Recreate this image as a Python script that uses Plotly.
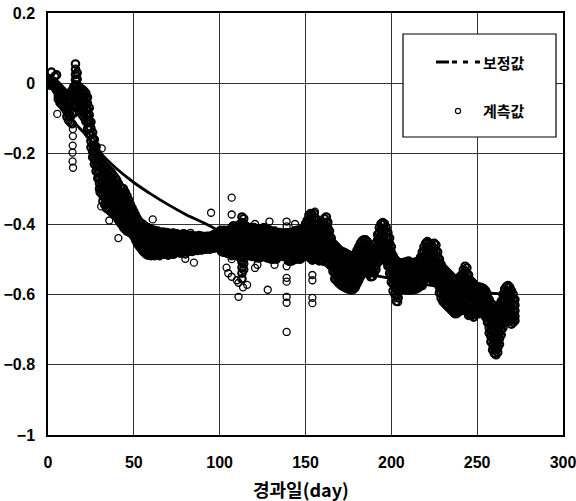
import plotly.graph_objects as go

# ---------------- data ----------------
# fitted curve (보정값)
fit_day = [0, 5, 10, 15, 20, 25, 30, 40, 50, 60, 70, 80, 90, 100, 110, 120, 130,
           140, 150, 160, 170, 180, 190, 200, 210, 220, 230, 240, 250, 260, 272]
fit_val = [0.0, -0.03, -0.075, -0.108, -0.136, -0.163, -0.195, -0.243, -0.282, -0.315,
           -0.345, -0.372, -0.395, -0.42, -0.44, -0.458, -0.474, -0.488, -0.5, -0.514,
           -0.525, -0.536, -0.546, -0.555, -0.564, -0.572, -0.58, -0.586, -0.592, -0.597, -0.601]

# measured values (계측값): (day, readings of that day)
meas_days_0_30 = [
    (0, [0.0, 0.005]), (1, [0.01, 0.0, -0.005]), (2, [0.032, 0.0]), (3, [0.005, -0.005]),
    (4, [0.02, 0.0, -0.012]), (5, [0.024, -0.005, -0.02]),
    (6, [-0.01, -0.022, -0.035, -0.045]), (7, [-0.015, -0.028, -0.042, -0.055]),
    (8, [-0.02, -0.033, -0.047, -0.06]), (9, [-0.025, -0.038, -0.052, -0.066]),
    (10, [-0.03, -0.044, -0.058, -0.072]), (11, [-0.035, -0.05, -0.065, -0.08, -0.095]),
    (12, [-0.03, -0.05, -0.07, -0.09, -0.105]), (13, [-0.035, -0.055, -0.075, -0.095, -0.11]),
    (14, [-0.02, -0.05, -0.085, -0.115]), (15, [-0.01, -0.035, -0.06, -0.085]),
    (16, [0.055, 0.04, 0.025, 0.01, -0.005, -0.02, -0.035, -0.05]),
    (17, [0.03, 0.012, -0.005, -0.02, -0.035, -0.05, -0.065]),
    (18, [-0.01, -0.025, -0.04, -0.055, -0.07]), (19, [-0.015, -0.03, -0.045, -0.06, -0.075]),
    (20, [-0.018, -0.033, -0.048, -0.063, -0.078, -0.09]),
    (21, [-0.022, -0.037, -0.052, -0.067, -0.082, -0.097]),
    (22, [-0.028, -0.043, -0.058, -0.073, -0.09, -0.108]),
    (23, [-0.04, -0.057, -0.075, -0.093, -0.112, -0.13]),
    (24, [-0.07, -0.09, -0.11, -0.13, -0.145]), (25, [-0.11, -0.128, -0.146, -0.164, -0.182]),
    (26, [-0.14, -0.158, -0.176, -0.194, -0.21]), (27, [-0.16, -0.178, -0.196, -0.214, -0.23]),
    (28, [-0.18, -0.198, -0.216, -0.234, -0.25]), (29, [-0.2, -0.218, -0.236, -0.254, -0.27]),
    (30, [-0.215, -0.233, -0.251, -0.269, -0.285, -0.3]),
]
meas_days_31_60 = [
    (31, [-0.225, -0.243, -0.261, -0.279, -0.297, -0.312]),
    (32, [-0.23, -0.248, -0.266, -0.284, -0.302, -0.32, -0.335]),
    (33, [-0.235, -0.253, -0.271, -0.289, -0.307, -0.325, -0.345]),
    (34, [-0.24, -0.258, -0.276, -0.294, -0.312, -0.33, -0.355]),
    (35, [-0.245, -0.263, -0.281, -0.299, -0.317, -0.335, -0.358]),
    (36, [-0.25, -0.268, -0.286, -0.304, -0.322, -0.34, -0.362]),
    (37, [-0.255, -0.273, -0.291, -0.309, -0.327, -0.345, -0.366]),
    (38, [-0.262, -0.28, -0.298, -0.316, -0.334, -0.352, -0.37]),
    (39, [-0.268, -0.286, -0.304, -0.322, -0.34, -0.358, -0.375]),
    (40, [-0.275, -0.293, -0.311, -0.329, -0.347, -0.365, -0.38]),
    (41, [-0.285, -0.303, -0.321, -0.339, -0.357, -0.375, -0.388]),
    (42, [-0.295, -0.313, -0.331, -0.349, -0.367, -0.385, -0.395]),
    (43, [-0.298, -0.316, -0.334, -0.352, -0.37, -0.388, -0.402]),
    (44, [-0.3, -0.318, -0.336, -0.354, -0.372, -0.39, -0.41]),
    (45, [-0.31, -0.328, -0.346, -0.364, -0.382, -0.4, -0.415]),
    (46, [-0.32, -0.338, -0.356, -0.374, -0.392, -0.408, -0.42]),
    (47, [-0.332, -0.35, -0.368, -0.386, -0.402, -0.422]),
    (48, [-0.345, -0.362, -0.379, -0.396, -0.412, -0.425]),
    (49, [-0.355, -0.372, -0.389, -0.406, -0.42, -0.428]),
    (50, [-0.365, -0.381, -0.397, -0.413, -0.426, -0.435]),
    (51, [-0.375, -0.391, -0.407, -0.423, -0.437, -0.445]),
    (52, [-0.385, -0.401, -0.417, -0.433, -0.447, -0.455]),
    (53, [-0.392, -0.408, -0.424, -0.44, -0.454, -0.462]),
    (54, [-0.398, -0.414, -0.43, -0.446, -0.46, -0.468]),
    (55, [-0.4, -0.416, -0.432, -0.448, -0.464, -0.475]),
    (56, [-0.405, -0.421, -0.437, -0.453, -0.469, -0.48]),
    (57, [-0.408, -0.424, -0.44, -0.456, -0.472, -0.485]),
    (58, [-0.41, -0.426, -0.442, -0.458, -0.474, -0.487]),
    (59, [-0.413, -0.429, -0.445, -0.461, -0.476, -0.488]),
    (60, [-0.415, -0.431, -0.447, -0.463, -0.478, -0.49]),
]
meas_days_61_100 = [
    (61, [-0.42, -0.436, -0.452, -0.468, -0.484]), (62, [-0.418, -0.434, -0.45, -0.466, -0.482, -0.49]),
    (63, [-0.422, -0.438, -0.454, -0.47, -0.486]), (64, [-0.42, -0.436, -0.452, -0.468, -0.484]),
    (65, [-0.424, -0.44, -0.456, -0.472, -0.488]), (66, [-0.425, -0.441, -0.457, -0.473, -0.485]),
    (67, [-0.423, -0.439, -0.455, -0.471, -0.484]), (68, [-0.426, -0.442, -0.458, -0.474, -0.486]),
    (69, [-0.424, -0.44, -0.456, -0.472, -0.483]), (70, [-0.426, -0.442, -0.458, -0.474, -0.488]),
    (71, [-0.428, -0.444, -0.46, -0.476, -0.482]), (72, [-0.427, -0.443, -0.459, -0.475, -0.484]),
    (73, [-0.426, -0.442, -0.458, -0.474, -0.486]), (74, [-0.43, -0.445, -0.46, -0.475, -0.482]),
    (75, [-0.428, -0.444, -0.46, -0.476, -0.481]), (76, [-0.43, -0.445, -0.46, -0.474, -0.48]),
    (77, [-0.432, -0.447, -0.462, -0.476, -0.483]), (78, [-0.43, -0.445, -0.46, -0.475, -0.48]),
    (79, [-0.428, -0.443, -0.458, -0.473, -0.479]), (80, [-0.43, -0.445, -0.46, -0.475, -0.485]),
    (81, [-0.432, -0.447, -0.462, -0.476]), (82, [-0.434, -0.449, -0.464, -0.477]),
    (83, [-0.432, -0.447, -0.462, -0.475]), (84, [-0.435, -0.45, -0.465, -0.478]),
    (85, [-0.434, -0.449, -0.464, -0.476]), (86, [-0.436, -0.451, -0.466, -0.474]),
    (87, [-0.435, -0.45, -0.465, -0.475]), (88, [-0.433, -0.448, -0.463, -0.472]),
    (89, [-0.436, -0.451, -0.466, -0.474]), (90, [-0.435, -0.45, -0.465, -0.473]),
    (91, [-0.437, -0.452, -0.467, -0.472]), (92, [-0.436, -0.451, -0.466, -0.471]),
    (93, [-0.435, -0.45, -0.465, -0.47]), (94, [-0.437, -0.452, -0.467, -0.472]),
    (95, [-0.434, -0.449, -0.464, -0.47]), (96, [-0.432, -0.447, -0.462, -0.469]),
    (97, [-0.43, -0.445, -0.46, -0.468]), (98, [-0.428, -0.443, -0.458, -0.467]),
    (99, [-0.425, -0.44, -0.455, -0.466]), (100, [-0.42, -0.436, -0.452, -0.466]),
]
meas_days_101_150 = [
    (101, [-0.418, -0.434, -0.45, -0.466, -0.478]), (102, [-0.42, -0.436, -0.452, -0.468, -0.48]),
    (103, [-0.418, -0.434, -0.45, -0.466, -0.48]), (104, [-0.42, -0.436, -0.452, -0.468, -0.482]),
    (105, [-0.422, -0.438, -0.454, -0.47, -0.484]), (106, [-0.418, -0.434, -0.45, -0.466, -0.482]),
    (107, [-0.41, -0.426, -0.442, -0.458, -0.474, -0.49]), (108, [-0.405, -0.421, -0.437, -0.453, -0.469, -0.485]),
    (109, [-0.41, -0.426, -0.442, -0.458, -0.474, -0.488]), (110, [-0.408, -0.424, -0.44, -0.456, -0.472, -0.488]),
    (111, [-0.405, -0.421, -0.437, -0.453, -0.469, -0.485]),
    (112, [-0.4, -0.416, -0.432, -0.448, -0.464, -0.48, -0.496]),
    (113, [-0.38, -0.396, -0.412, -0.428, -0.444, -0.46, -0.476, -0.492, -0.508, -0.524, -0.54, -0.556]),
    (114, [-0.385, -0.401, -0.417, -0.433, -0.449, -0.465, -0.481, -0.497, -0.513, -0.53]),
    (115, [-0.405, -0.421, -0.437, -0.453, -0.469, -0.485]), (116, [-0.41, -0.426, -0.442, -0.458, -0.474, -0.49]),
    (117, [-0.412, -0.428, -0.444, -0.46, -0.476, -0.49]), (118, [-0.41, -0.426, -0.442, -0.458, -0.474, -0.49]),
    (119, [-0.412, -0.428, -0.444, -0.46, -0.476, -0.492]), (120, [-0.41, -0.426, -0.442, -0.458, -0.474, -0.49]),
    (121, [-0.414, -0.43, -0.446, -0.462, -0.478, -0.494]), (122, [-0.416, -0.432, -0.448, -0.464, -0.48, -0.496]),
    (123, [-0.418, -0.434, -0.45, -0.466, -0.482, -0.496]), (124, [-0.415, -0.431, -0.447, -0.463, -0.479, -0.495]),
    (125, [-0.412, -0.428, -0.444, -0.46, -0.476, -0.492]), (126, [-0.41, -0.426, -0.442, -0.458, -0.474, -0.49]),
    (127, [-0.412, -0.428, -0.444, -0.46, -0.476, -0.494]), (128, [-0.415, -0.431, -0.447, -0.463, -0.479, -0.497]),
    (129, [-0.418, -0.434, -0.45, -0.466, -0.482, -0.498]), (130, [-0.42, -0.436, -0.452, -0.468, -0.484, -0.5]),
    (131, [-0.422, -0.438, -0.454, -0.47, -0.486, -0.5]), (132, [-0.42, -0.436, -0.452, -0.468, -0.484, -0.498]),
    (133, [-0.424, -0.44, -0.456, -0.472, -0.488, -0.5]), (134, [-0.426, -0.442, -0.458, -0.474, -0.49]),
    (135, [-0.424, -0.44, -0.456, -0.472, -0.488]), (136, [-0.426, -0.442, -0.458, -0.474, -0.49]),
    (137, [-0.428, -0.444, -0.46, -0.476, -0.492]), (138, [-0.426, -0.442, -0.458, -0.474, -0.49]),
    (139, [-0.425, -0.441, -0.457, -0.473, -0.489]), (140, [-0.426, -0.442, -0.458, -0.474, -0.49, -0.505]),
    (141, [-0.428, -0.444, -0.46, -0.476, -0.492, -0.506]), (142, [-0.425, -0.441, -0.457, -0.473, -0.489, -0.505]),
    (143, [-0.422, -0.438, -0.454, -0.47, -0.486, -0.502]), (144, [-0.42, -0.436, -0.452, -0.468, -0.484, -0.5]),
    (145, [-0.418, -0.434, -0.45, -0.466, -0.482, -0.498]), (146, [-0.42, -0.436, -0.452, -0.468, -0.484, -0.5]),
    (147, [-0.418, -0.434, -0.45, -0.466, -0.482, -0.5]), (148, [-0.415, -0.431, -0.447, -0.463, -0.479, -0.495]),
    (149, [-0.41, -0.426, -0.442, -0.458, -0.474, -0.49]), (150, [-0.4, -0.416, -0.432, -0.448, -0.464, -0.48]),
]
meas_days_151_200 = [
    (151, [-0.39, -0.406, -0.422, -0.438, -0.454, -0.47, -0.486]),
    (152, [-0.375, -0.391, -0.407, -0.423, -0.439, -0.455, -0.471, -0.487]),
    (153, [-0.37, -0.386, -0.402, -0.418, -0.434, -0.45, -0.466, -0.482, -0.498]),
    (154, [-0.375, -0.391, -0.407, -0.423, -0.439, -0.455, -0.471, -0.487, -0.503]),
    (155, [-0.37, -0.386, -0.402, -0.418, -0.434, -0.45, -0.466, -0.482, -0.5]),
    (156, [-0.385, -0.401, -0.417, -0.433, -0.449, -0.465, -0.481, -0.497]),
    (157, [-0.4, -0.416, -0.432, -0.448, -0.464, -0.48, -0.496]),
    (158, [-0.41, -0.426, -0.442, -0.458, -0.474, -0.49, -0.505]),
    (159, [-0.405, -0.421, -0.437, -0.453, -0.469, -0.485, -0.5]),
    (160, [-0.395, -0.411, -0.427, -0.443, -0.459, -0.475, -0.491, -0.505]),
    (161, [-0.385, -0.401, -0.417, -0.433, -0.449, -0.465, -0.481, -0.5]),
    (162, [-0.38, -0.396, -0.412, -0.428, -0.444, -0.46, -0.476, -0.492, -0.508]),
    (163, [-0.395, -0.411, -0.427, -0.443, -0.459, -0.475, -0.491, -0.507]),
    (164, [-0.42, -0.436, -0.452, -0.468, -0.484, -0.5, -0.515]),
    (165, [-0.44, -0.456, -0.472, -0.488, -0.504, -0.52]),
    (166, [-0.455, -0.471, -0.487, -0.503, -0.519, -0.535]),
    (167, [-0.46, -0.476, -0.492, -0.508, -0.524, -0.54, -0.556]),
    (168, [-0.465, -0.481, -0.497, -0.513, -0.529, -0.545, -0.56]),
    (169, [-0.47, -0.486, -0.502, -0.518, -0.534, -0.55, -0.566]),
    (170, [-0.475, -0.491, -0.507, -0.523, -0.539, -0.555, -0.571]),
    (171, [-0.478, -0.494, -0.51, -0.526, -0.542, -0.558, -0.575]),
    (172, [-0.48, -0.496, -0.512, -0.528, -0.544, -0.56, -0.578]),
    (173, [-0.482, -0.498, -0.514, -0.53, -0.546, -0.562, -0.58]),
    (174, [-0.485, -0.501, -0.517, -0.533, -0.549, -0.565, -0.583]),
    (175, [-0.488, -0.504, -0.52, -0.536, -0.552, -0.568, -0.585]),
    (176, [-0.49, -0.506, -0.522, -0.538, -0.554, -0.57, -0.586]),
    (177, [-0.492, -0.508, -0.524, -0.54, -0.556, -0.572, -0.587]),
    (178, [-0.49, -0.506, -0.522, -0.538, -0.554, -0.57, -0.585]),
    (179, [-0.485, -0.501, -0.517, -0.533, -0.549, -0.565, -0.58]),
    (180, [-0.475, -0.491, -0.507, -0.523, -0.539, -0.555, -0.57]),
    (181, [-0.465, -0.481, -0.497, -0.513, -0.529, -0.545, -0.56]),
    (182, [-0.455, -0.471, -0.487, -0.503, -0.519, -0.535, -0.55]),
    (183, [-0.448, -0.464, -0.48, -0.496, -0.512, -0.528, -0.54]),
    (184, [-0.445, -0.461, -0.477, -0.493, -0.509, -0.525, -0.54]),
    (185, [-0.445, -0.461, -0.477, -0.493, -0.509, -0.525, -0.538]),
    (186, [-0.45, -0.466, -0.482, -0.498, -0.514, -0.53]),
    (187, [-0.46, -0.476, -0.492, -0.508, -0.524, -0.54]),
    (188, [-0.475, -0.491, -0.507, -0.523, -0.539, -0.55]),
    (189, [-0.485, -0.501, -0.517, -0.533, -0.549]),
    (190, [-0.475, -0.491, -0.507, -0.523, -0.539]),
    (191, [-0.455, -0.471, -0.487, -0.503, -0.519, -0.53]),
    (192, [-0.43, -0.446, -0.462, -0.478, -0.494, -0.51]),
    (193, [-0.41, -0.426, -0.442, -0.458, -0.474, -0.49, -0.505]),
    (194, [-0.4, -0.416, -0.432, -0.448, -0.464, -0.48, -0.496]),
    (195, [-0.396, -0.412, -0.428, -0.444, -0.46, -0.476, -0.492]),
    (196, [-0.4, -0.416, -0.432, -0.448, -0.464, -0.48, -0.496]),
    (197, [-0.41, -0.426, -0.442, -0.458, -0.474, -0.49, -0.506]),
    (198, [-0.425, -0.441, -0.457, -0.473, -0.489, -0.505, -0.52]),
    (199, [-0.44, -0.456, -0.472, -0.488, -0.504, -0.52, -0.54]),
    (200, [-0.465, -0.481, -0.497, -0.513, -0.529, -0.545, -0.565]),
]
meas_days_201_272 = [
    (201, [-0.49, -0.506, -0.522, -0.538, -0.554, -0.57, -0.59]),
    (202, [-0.5, -0.516, -0.532, -0.548, -0.564, -0.58, -0.6]),
    (203, [-0.505, -0.521, -0.537, -0.553, -0.569, -0.585, -0.605, -0.62]),
    (204, [-0.51, -0.526, -0.542, -0.558, -0.574, -0.59, -0.61]),
    (205, [-0.51, -0.526, -0.542, -0.558, -0.574, -0.588]),
    (206, [-0.512, -0.528, -0.544, -0.56, -0.576, -0.587]),
    (207, [-0.51, -0.526, -0.542, -0.558, -0.574, -0.585]),
    (208, [-0.508, -0.524, -0.54, -0.556, -0.572, -0.584]),
    (209, [-0.51, -0.526, -0.542, -0.558, -0.574, -0.587]),
    (210, [-0.505, -0.521, -0.537, -0.553, -0.569, -0.585]),
    (211, [-0.51, -0.526, -0.542, -0.558, -0.574, -0.588]),
    (212, [-0.512, -0.528, -0.544, -0.56, -0.576, -0.587]),
    (213, [-0.51, -0.526, -0.542, -0.558, -0.574, -0.586]),
    (214, [-0.508, -0.524, -0.54, -0.556, -0.572, -0.585]),
    (215, [-0.51, -0.526, -0.542, -0.558, -0.574, -0.584]),
    (216, [-0.505, -0.521, -0.537, -0.553, -0.569, -0.58]),
    (217, [-0.495, -0.511, -0.527, -0.543, -0.559, -0.575]),
    (218, [-0.48, -0.496, -0.512, -0.528, -0.544, -0.56, -0.575]),
    (219, [-0.465, -0.481, -0.497, -0.513, -0.529, -0.545, -0.56]),
    (220, [-0.455, -0.471, -0.487, -0.503, -0.519, -0.535, -0.55]),
    (221, [-0.45, -0.466, -0.482, -0.498, -0.514, -0.53, -0.548]),
    (222, [-0.455, -0.471, -0.487, -0.503, -0.519, -0.535, -0.55]),
    (223, [-0.46, -0.476, -0.492, -0.508, -0.524, -0.54, -0.555]),
    (224, [-0.465, -0.481, -0.497, -0.513, -0.529, -0.545, -0.56]),
    (225, [-0.455, -0.471, -0.487, -0.503, -0.519, -0.535, -0.555]),
    (226, [-0.46, -0.476, -0.492, -0.508, -0.524, -0.54, -0.56]),
    (227, [-0.48, -0.496, -0.512, -0.528, -0.544, -0.56, -0.57]),
    (228, [-0.5, -0.516, -0.532, -0.548, -0.564, -0.58, -0.596]),
    (229, [-0.515, -0.531, -0.547, -0.563, -0.579, -0.595, -0.611]),
    (230, [-0.525, -0.541, -0.557, -0.573, -0.589, -0.605, -0.62]),
    (231, [-0.53, -0.546, -0.562, -0.578, -0.594, -0.61, -0.625]),
    (232, [-0.535, -0.551, -0.567, -0.583, -0.599, -0.615, -0.63]),
    (233, [-0.54, -0.556, -0.572, -0.588, -0.604, -0.62, -0.635]),
    (234, [-0.545, -0.561, -0.577, -0.593, -0.609, -0.625, -0.64]),
    (235, [-0.55, -0.566, -0.582, -0.598, -0.614, -0.63, -0.645]),
    (236, [-0.555, -0.571, -0.587, -0.603, -0.619, -0.635, -0.65]),
    (237, [-0.56, -0.576, -0.592, -0.608, -0.624, -0.64, -0.655]),
    (238, [-0.56, -0.576, -0.592, -0.608, -0.624, -0.64, -0.655]),
    (239, [-0.555, -0.571, -0.587, -0.603, -0.619, -0.635, -0.65]),
    (240, [-0.55, -0.566, -0.582, -0.598, -0.614, -0.63, -0.648]),
    (241, [-0.545, -0.561, -0.577, -0.593, -0.609, -0.625, -0.645]),
    (242, [-0.53, -0.546, -0.562, -0.578, -0.594, -0.61, -0.628, -0.645]),
    (243, [-0.52, -0.536, -0.552, -0.568, -0.584, -0.6, -0.618, -0.64]),
    (244, [-0.525, -0.541, -0.557, -0.573, -0.589, -0.605, -0.625, -0.645]),
    (245, [-0.545, -0.561, -0.577, -0.593, -0.609, -0.625, -0.645, -0.66]),
    (246, [-0.56, -0.576, -0.592, -0.608, -0.624, -0.64, -0.658]),
    (247, [-0.565, -0.581, -0.597, -0.613, -0.629, -0.645, -0.66]),
    (248, [-0.57, -0.586, -0.602, -0.618, -0.634, -0.65, -0.665]),
    (249, [-0.575, -0.591, -0.607, -0.623, -0.639, -0.655]),
    (250, [-0.578, -0.594, -0.61, -0.626, -0.642, -0.655]),
    (251, [-0.58, -0.596, -0.612, -0.628, -0.644, -0.655]),
    (252, [-0.58, -0.596, -0.612, -0.628, -0.644, -0.653]),
    (253, [-0.582, -0.598, -0.614, -0.63, -0.646, -0.655]),
    (254, [-0.585, -0.601, -0.617, -0.633, -0.649, -0.658]),
    (255, [-0.59, -0.606, -0.622, -0.638, -0.654, -0.665]),
    (256, [-0.6, -0.616, -0.632, -0.648, -0.664, -0.68]),
    (257, [-0.615, -0.631, -0.647, -0.663, -0.679, -0.695, -0.71]),
    (258, [-0.625, -0.641, -0.657, -0.673, -0.689, -0.705, -0.72, -0.735]),
    (259, [-0.63, -0.646, -0.662, -0.678, -0.694, -0.71, -0.726, -0.742, -0.758]),
    (260, [-0.64, -0.656, -0.672, -0.688, -0.704, -0.72, -0.736, -0.752, -0.768]),
    (261, [-0.645, -0.661, -0.677, -0.693, -0.709, -0.725, -0.741, -0.757, -0.772]),
    (262, [-0.64, -0.656, -0.672, -0.688, -0.704, -0.72, -0.736, -0.752, -0.765]),
    (263, [-0.63, -0.646, -0.662, -0.678, -0.694, -0.71, -0.726, -0.742]),
    (264, [-0.62, -0.636, -0.652, -0.668, -0.684, -0.7, -0.715]),
    (265, [-0.6, -0.616, -0.632, -0.648, -0.664, -0.68, -0.695]),
    (266, [-0.585, -0.601, -0.617, -0.633, -0.649, -0.665, -0.68]),
    (267, [-0.578, -0.594, -0.61, -0.626, -0.642, -0.658, -0.675]),
    (268, [-0.575, -0.591, -0.607, -0.623, -0.639, -0.655, -0.67]),
    (269, [-0.58, -0.596, -0.612, -0.628, -0.644, -0.66, -0.675]),
    (270, [-0.59, -0.606, -0.622, -0.638, -0.654, -0.67, -0.685]),
    (271, [-0.6, -0.616, -0.632, -0.648, -0.664, -0.68]),
    (272, [-0.615, -0.631, -0.647, -0.663, -0.675]),
]
# isolated readings away from the main band
outlier_day = [5.4, 14.5, 14.5, 14.4, 14.3, 14.3, 14.6, 30, 31, 31.3, 35.7, 40, 41, 58, 61,
               65, 70, 80, 80, 83, 85, 95, 97, 104, 105, 107, 107, 107, 107, 110, 111, 111,
               113.6, 116, 120.6, 120.6, 122, 128, 129, 132, 139, 139, 139, 139, 139, 139,
               139, 139, 143.9, 154, 154, 154, 154, 155.5, 162.5, 204]
outlier_val = [-0.087, -0.13, -0.15, -0.177, -0.197, -0.222, -0.24, -0.31, -0.35, -0.185,
               -0.39, -0.38, -0.44, -0.49, -0.387, -0.492, -0.49, -0.499, -0.43, -0.425,
               -0.51, -0.368, -0.427, -0.524, -0.54, -0.325, -0.373, -0.5, -0.55, -0.56,
               -0.567, -0.607, -0.58, -0.573, -0.40, -0.525, -0.516, -0.587, -0.393, -0.516,
               -0.393, -0.407, -0.52, -0.553, -0.564, -0.607, -0.624, -0.707, -0.40, -0.545,
               -0.56, -0.61, -0.625, -0.365, -0.38, -0.622]

x_ticks = [0, 50, 100, 150, 200, 250, 300]
y_ticks = [0.2, 0, -0.2, -0.4, -0.6, -0.8, -1]
y_tick_text = ["0.2", "0", "\u22120.2", "\u22120.4", "\u22120.6", "\u22120.8", "\u22121"]
x_title = "경과일(day)"
legend_fit = "보정값"
legend_meas = "계측값"

# ---------------- build ----------------
band_x, band_y = [], []
for seg in (meas_days_0_30, meas_days_31_60, meas_days_61_100, meas_days_101_150,
            meas_days_151_200, meas_days_201_272):
    for d, vals in seg:
        for v in vals:
            band_x.append(d)
            band_y.append(v)

fig = go.Figure()
# dense part of the measured series
fig.add_trace(go.Scatter(
    x=band_x, y=band_y, mode="markers", name=legend_meas,
    marker=dict(symbol="circle-open", size=7.5, color="black", line=dict(width=2.1)),
    showlegend=False))
# isolated measured readings
fig.add_trace(go.Scatter(
    x=outlier_day, y=outlier_val, mode="markers", name=legend_meas,
    marker=dict(symbol="circle-open", size=7, color="black", line=dict(width=1.3)),
    showlegend=False))
fig.add_trace(go.Scatter(
    x=fit_day, y=fit_val, mode="lines", name=legend_fit, line_shape="spline",
    line=dict(color="black", width=2.8), showlegend=False))

tickfont = dict(family="Liberation Sans, Arial, sans-serif", size=16, color="black", weight="bold")
axis_common = dict(showline=True, mirror=True, linecolor="black", linewidth=1.5,
                   showgrid=True, gridcolor="#333333", gridwidth=1, zeroline=False,
                   ticks="outside", tickcolor="rgba(0,0,0,0)", tickfont=tickfont,
                   automargin=False, ticklabeloverflow="allow")

fig.update_xaxes(range=[0, 300], tickvals=x_ticks, ticktext=[str(t) for t in x_ticks],
                 ticklen=12, **axis_common)
fig.update_yaxes(range=[-1, 0.2], tickvals=y_ticks, ticktext=y_tick_text,
                 ticklen=8, **axis_common)

# custom legend box (pixel layout of the reference)
L, R, T, B = 48, 563, 13, 435
W, H = R - L, B - T
def px(x):
    return (x - L) / W
def py(y):
    return (B - y) / H

shapes = [
    dict(type="rect", xref="paper", yref="paper", x0=px(403), x1=px(556), y0=py(137), y1=py(34),
         fillcolor="white", line=dict(color="black", width=1.2), layer="above"),
]
for a, b in [(436, 449), (452, 457), (463, 468), (475, 480)]:
    shapes.append(dict(type="line", xref="paper", yref="paper", x0=px(a), x1=px(b),
                       y0=py(62), y1=py(62), line=dict(color="black", width=3), layer="above"))
shapes.append(dict(type="circle", xref="paper", yref="paper", xsizemode="pixel", ysizemode="pixel",
                   xanchor=px(458), yanchor=py(111), x0=-2.6, x1=2.6, y0=-2.6, y1=2.6,
                   line=dict(color="black", width=1.1), layer="above"))

kfont = dict(family="Noto Sans CJK KR", size=15, color="black", weight="bold")
annotations = [
    dict(text=legend_fit, xref="paper", yref="paper", x=px(481), y=py(62), xanchor="left",
         yanchor="middle", showarrow=False, font=kfont),
    dict(text=legend_meas, xref="paper", yref="paper", x=px(481), y=py(111), xanchor="left",
         yanchor="middle", showarrow=False, font=kfont),
    dict(text=x_title, xref="paper", yref="paper", x=px(301), y=py(489), xanchor="center",
         yanchor="middle", showarrow=False,
         font=dict(family="Noto Sans CJK KR", size=18, color="black", weight="bold")),
]

fig.update_layout(width=576, height=501, margin=dict(l=L, r=576 - R, t=T, b=501 - B),
                  paper_bgcolor="white", plot_bgcolor="white", showlegend=False,
                  shapes=shapes, annotations=annotations)

fig.write_html("out.html")
